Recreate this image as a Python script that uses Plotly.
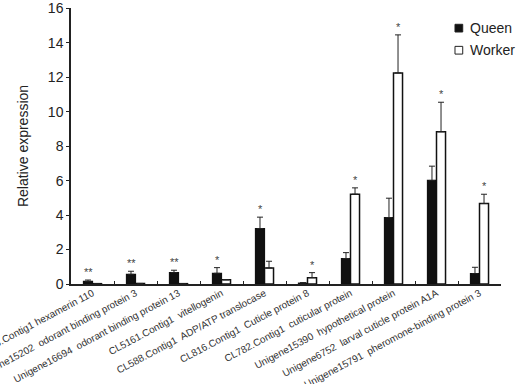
import plotly.graph_objects as go

categories = [
    "CL143.Contig1 hexamerin 110",
    "Unigene15202  odorant binding protein 3",
    "Unigene16694  odorant binding protein 13",
    "CL5161.Contig1  vitellogenin",
    "CL588.Contig1  ADP/ATP translocase",
    "CL816.Contig1  Cuticle protein 8",
    "CL782.Contig1  cuticular protein",
    "Unigene15390  hypothetical protein",
    "Unigene6752  larval cuticle protein A1A",
    "Unigene15791  pheromone-binding protein 3",
]
queen = [0.15, 0.56, 0.66, 0.62, 3.22, 0.05, 1.48, 3.86, 6.01, 0.60]
queen_err = [0.08, 0.18, 0.14, 0.33, 0.66, 0.03, 0.34, 1.12, 0.83, 0.37]
worker = [0.02, 0.03, 0.02, 0.25, 0.93, 0.37, 5.21, 12.25, 8.84, 4.67]
worker_err = [0.0, 0.0, 0.0, 0.0, 0.39, 0.29, 0.37, 2.21, 1.71, 0.54]
stars = ["**", "**", "**", "*", "*", "*", "*", "*", "*", "*"]
star_on = ["Q", "Q", "Q", "Q", "Q", "W", "W", "W", "W", "W"]
series_names = ["Queen", "Worker"]

FONT = "Liberation Sans, Arial"

fig = go.Figure()
fig.add_trace(go.Bar(
    x=categories, y=queen, name=series_names[0], showlegend=False,
    marker=dict(color="#111111", line=dict(color="#111111", width=1.2)),
    error_y=dict(type="data", array=queen_err, arrayminus=[0]*len(queen),
                 symmetric=False, color="#222222", thickness=1, width=3),
))
fig.add_trace(go.Bar(
    x=categories, y=worker, name=series_names[1], showlegend=False,
    marker=dict(color="white", line=dict(color="#111111", width=1.5)),
    error_y=dict(type="data", array=worker_err, arrayminus=[0]*len(worker),
                 symmetric=False, color="#222222", thickness=1, width=3),
))

for i, c in enumerate(categories):
    if star_on[i] == "Q":
        top = queen[i] + queen_err[i]
        xs = -4.5
    else:
        top = worker[i] + worker_err[i]
        xs = 4.5
    fig.add_annotation(x=c, y=top, text=stars[i], showarrow=False,
                       xshift=xs, yshift=0, yanchor="bottom",
                       font=dict(family=FONT, size=11, color="#444444"))

# custom legend (small square swatches + labels)
legend_fill = ["#111111", "white"]
for k, name in enumerate(series_names):
    yc = 0.927 - k * 0.08
    fig.add_shape(type="rect", xref="paper", yref="paper",
                  x0=0.893, x1=0.911, y0=yc - 0.014, y1=yc + 0.014,
                  fillcolor=legend_fill[k], line=dict(color="#222222", width=1))
    fig.add_annotation(xref="paper", yref="paper", x=0.923, y=yc, text=name,
                       showarrow=False, xanchor="left", yanchor="middle",
                       font=dict(family=FONT, size=14, color="#222222"))

fig.update_layout(
    width=530, height=384,
    margin=dict(l=71, r=29, t=8, b=100, autoexpand=False),
    paper_bgcolor="white", plot_bgcolor="white",
    barmode="group", bargap=0.58, bargroupgap=0,
    font=dict(family=FONT, color="#222222"),
    showlegend=False,
)
fig.update_xaxes(
    showline=True, linecolor="#222222", linewidth=1.5,
    ticks="inside", ticklen=3, tickcolor="#222222", tickson="boundaries",
    tickangle=-28, tickfont=dict(size=10, color="#333333"),
    ticklabelstandoff=-2,
    automargin=False, showgrid=False,
)
fig.update_yaxes(
    range=[0, 16.02], tickvals=[0, 2, 4, 6, 8, 10, 12, 14, 16],
    showline=True, linecolor="#222222", linewidth=1.5,
    ticks="outside", ticklen=3, tickcolor="#222222",
    tickfont=dict(size=14, color="#222222"), showgrid=False, zeroline=False,
    title=dict(text="Relative expression", font=dict(size=14, color="#222222"), standoff=16),
    automargin=False,
)

fig.write_html("out.html")
